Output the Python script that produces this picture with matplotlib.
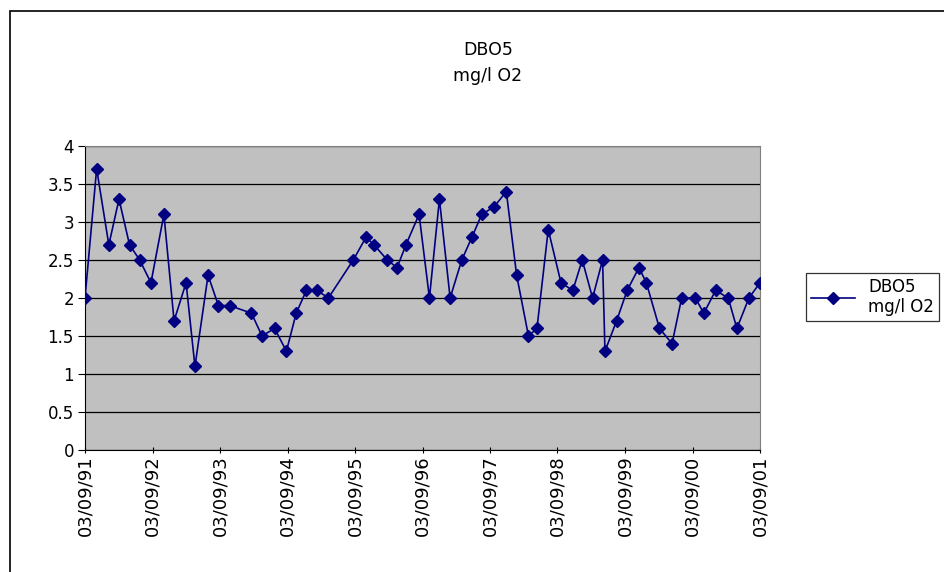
import datetime as dt
import matplotlib
matplotlib.use("Agg")
import matplotlib.pyplot as plt
import matplotlib.dates as mdates
from matplotlib.patches import Rectangle

# sampling dates (yyyy-mm-dd) and DBO5 values in mg/l O2
dates = ["1991-09-03", "1991-11-05", "1992-01-10", "1992-03-05", "1992-05-01",
         "1992-06-25", "1992-08-25", "1992-11-03", "1992-12-28", "1993-03-03",
         "1993-04-20", "1993-06-30", "1993-08-25", "1993-10-25", "1994-02-20",
         "1994-04-18", "1994-06-25", "1994-08-28", "1994-10-20", "1994-12-14",
         "1995-02-10", "1995-04-12", "1995-08-25", "1995-11-02", "1995-12-15",
         "1996-02-25", "1996-04-18", "1996-06-05", "1996-08-15", "1996-10-10",
         "1996-12-03", "1997-01-30", "1997-04-03", "1997-05-28", "1997-07-20",
         "1997-09-25", "1997-11-30", "1998-01-25", "1998-03-30", "1998-05-15",
         "1998-07-15", "1998-09-22", "1998-11-25", "1999-01-15", "1999-03-12",
         "1999-05-05", "1999-05-18", "1999-07-20", "1999-09-15", "1999-11-18",
         "1999-12-28", "2000-03-08", "2000-05-15", "2000-07-06", "2000-09-18",
         "2000-11-03", "2001-01-06", "2001-03-15", "2001-05-01", "2001-07-05",
         "2001-09-03"]
values = [2.0, 3.7, 2.7, 3.3, 2.7, 2.5, 2.2, 3.1, 1.7, 2.2,
          1.1, 2.3, 1.9, 1.9, 1.8, 1.5, 1.6, 1.3, 1.8, 2.1,
          2.1, 2.0, 2.5, 2.8, 2.7, 2.5, 2.4, 2.7, 3.1, 2.0,
          3.3, 2.0, 2.5, 2.8, 3.1, 3.2, 3.4, 2.3, 1.5, 1.6,
          2.9, 2.2, 2.1, 2.5, 2.0, 2.5, 1.3, 1.7, 2.1, 2.4,
          2.2, 1.6, 1.4, 2.0, 2.0, 1.8, 2.1, 2.0, 1.6, 2.0,
          2.2]
tick_years = list(range(1991, 2002))
yticks = [0, 0.5, 1, 1.5, 2, 2.5, 3, 3.5, 4]
label = "DBO5\nmg/l O2"

x = [dt.datetime.strptime(d, "%Y-%m-%d") for d in dates]
W, H = 944, 572
fig = plt.figure(figsize=(W / 100, H / 100), dpi=100)
ax = fig.add_axes([85 / W, 1 - 450 / H, (760 - 85) / W, (450 - 146) / H])
ax.set_facecolor("#c0c0c0")

ax.plot(x, values, "-", color="#000080", lw=1.2, marker="D", ms=6,
        mec="#000080", mfc="#000080", label=label, zorder=3)

ax.set_xlim(dt.datetime(1991, 9, 3), dt.datetime(2001, 9, 3))
ax.set_ylim(0, 4)
ax.set_xticks([dt.datetime(yr, 9, 3) for yr in tick_years])
ax.xaxis.set_major_formatter(mdates.DateFormatter("%d/%m/%y"))
ax.set_yticks(yticks)
ax.set_yticklabels([f"{v:g}" for v in yticks])
ax.grid(axis="y", color="black", lw=0.9)
ax.set_axisbelow(True)
for s in ["top", "right"]:
    ax.spines[s].set_color("#808080")
for s in ["left", "bottom"]:
    ax.spines[s].set_color("black")
ax.tick_params(axis="y", length=5, labelsize=12, pad=3)
ax.tick_params(axis="x", length=4, direction="inout", labelsize=13, rotation=90, pad=2)

fig.text(488 / W, 1 - 63 / H, label, ha="center", va="center", fontsize=12.5, linespacing=1.6)
fig.patches.append(Rectangle((10 / W, -0.1), 1.2, 1 - 11 / H + 0.1, transform=fig.transFigure,
                             fill=False, ec="black", lw=1.2))
leg = fig.legend(loc="center left", bbox_to_anchor=(798 / W, 1 - 297 / H), fontsize=12,
                 frameon=True, fancybox=False, edgecolor="black", handlelength=2.6,
                 borderpad=0.3)
leg.get_frame().set_linewidth(0.9)

fig.savefig("out.png", dpi=100)
